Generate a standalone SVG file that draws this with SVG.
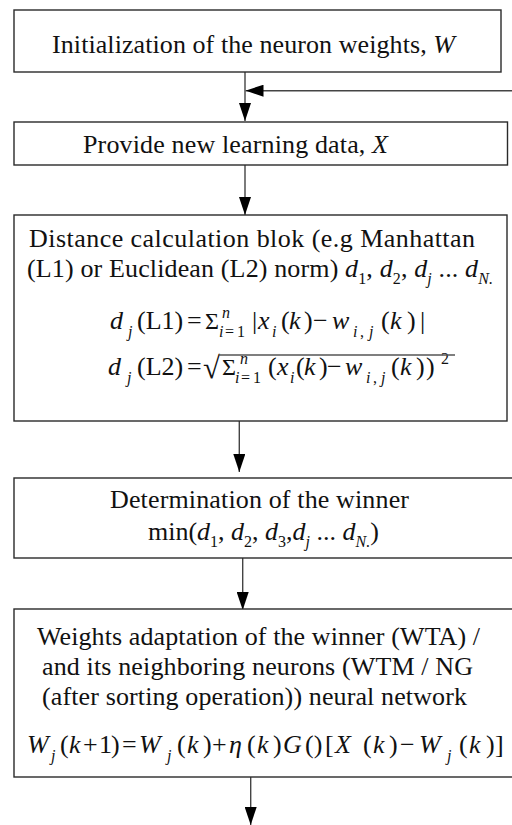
<svg xmlns="http://www.w3.org/2000/svg" width="512" height="825" viewBox="0 0 512 825">
<defs>
<style>
.box{fill:#fff;stroke:#2a2a2a;stroke-width:1.4}
.t{font-family:"Liberation Serif","Times New Roman",serif;font-size:26px;fill:#111}
.i{font-style:italic}
.s{font-size:16px}
.big{font-size:31px}
.sig{font-size:24px}
.con{stroke:#444;stroke-width:1.4;fill:none}
</style>
<marker id="ah" markerUnits="userSpaceOnUse" markerWidth="18" markerHeight="12" refX="18" refY="6" orient="auto" viewBox="0 0 18 12">
<path d="M0,0 L18,6 L0,12 Z" fill="#000"/>
</marker>
</defs>
<rect width="512" height="825" fill="#fff"/>

<g id="connectors">
<line class="con" x1="245" y1="72" x2="245" y2="121" marker-end="url(#ah)"/>
<line class="con" x1="513" y1="90.7" x2="245.5" y2="90.7" marker-end="url(#ah)"/>
<line class="con" x1="245" y1="165" x2="245" y2="215" marker-end="url(#ah)"/>
<line class="con" x1="239.3" y1="421" x2="239.3" y2="472" marker-end="url(#ah)"/>
<line class="con" x1="242.7" y1="558" x2="242.7" y2="610" marker-end="url(#ah)"/>
<line class="con" x1="250.7" y1="777" x2="250.7" y2="825" marker-end="url(#ah)"/>
</g>

<g id="init">
<rect class="box" x="14" y="10" width="487" height="62"/>
<text class="t" x="52" y="53" textLength="403">Initialization of the neuron weights, <tspan class="i">W</tspan></text>
</g>

<g id="provide">
<rect class="box" x="14" y="122" width="493.5" height="43"/>
<text class="t" x="83" y="153" textLength="305">Provide new learning data, <tspan class="i">X</tspan></text>
</g>

<g id="distance">
<rect class="box" x="14" y="215" width="493" height="206"/>
<text class="t" x="29" y="247" textLength="446">Distance calculation blok (e.g Manhattan</text>
<text class="t" x="27" y="277" textLength="466">(L1) or Euclidean (L2) norm) <tspan class="i">d</tspan><tspan class="s" dy="7">1</tspan><tspan dy="-7">, </tspan><tspan class="i">d</tspan><tspan class="s" dy="7">2</tspan><tspan dy="-7">, </tspan><tspan class="i">d</tspan><tspan class="s i" dy="7">j</tspan><tspan dy="-7"> ... </tspan><tspan class="i">d</tspan><tspan class="s i" dy="7">N.</tspan></text>
<text class="t">
<tspan class="i" x="110" y="329">d</tspan>
<tspan class="s i" x="128" y="337">j</tspan>
<tspan x="137" y="329">(L1)</tspan>
<tspan x="187" y="329">=</tspan>
<tspan class="sig" x="205" y="329">Σ</tspan>
<tspan class="s i" x="222" y="318">n</tspan>
<tspan class="s i" x="219" y="337">i</tspan><tspan class="s" x="225" y="337">=</tspan><tspan class="s" x="237" y="337">1</tspan>
<tspan x="252" y="329">|</tspan>
<tspan class="i" x="258" y="329">x</tspan>
<tspan class="s i" x="272" y="337">i</tspan>
<tspan x="281" y="329">(</tspan>
<tspan class="i" x="289" y="329">k</tspan>
<tspan x="304" y="329">)</tspan>
<tspan x="313" y="329">−</tspan>
<tspan class="i" x="332" y="329">w</tspan>
<tspan class="s i" x="353" y="337">i</tspan><tspan class="s" x="360" y="337">,</tspan><tspan class="s i" x="369" y="337">j</tspan>
<tspan x="381" y="329">(</tspan>
<tspan class="i" x="390" y="329">k</tspan>
<tspan x="407" y="329">)</tspan>
<tspan x="420" y="329">|</tspan>
</text>
<text class="t">
<tspan class="i" x="108" y="375">d</tspan>
<tspan class="s i" x="127" y="383">j</tspan>
<tspan x="137" y="375">(L2)</tspan>
<tspan x="187" y="375">=</tspan>
<tspan class="big" x="203" y="378">√</tspan>
<tspan class="sig" x="222" y="375">Σ</tspan>
<tspan class="s i" x="240" y="364">n</tspan>
<tspan class="s i" x="235" y="383">i</tspan><tspan class="s" x="241" y="383">=</tspan><tspan class="s" x="253" y="383">1</tspan>
<tspan x="268" y="375">(</tspan>
<tspan class="i" x="277" y="375">x</tspan>
<tspan class="s i" x="290" y="383">i</tspan>
<tspan x="296" y="375">(</tspan>
<tspan class="i" x="304" y="375">k</tspan>
<tspan x="319" y="375">)</tspan>
<tspan x="327" y="375">−</tspan>
<tspan class="i" x="345" y="375">w</tspan>
<tspan class="s i" x="366" y="383">i</tspan><tspan class="s" x="373" y="383">,</tspan><tspan class="s i" x="381" y="383">j</tspan>
<tspan x="391" y="375">(</tspan>
<tspan class="i" x="400" y="375">k</tspan>
<tspan x="416" y="375">)</tspan>
<tspan x="426" y="375">)</tspan>
<tspan class="s" x="441" y="364">2</tspan>
</text>
<line x1="219" y1="355" x2="455" y2="355" stroke="#555" stroke-width="1.4"/>
</g>

<g id="winner">
<rect class="box" x="14" y="478" width="501" height="80"/>
<text class="t" x="110" y="508" textLength="299">Determination of the winner</text>
<text class="t" x="148" y="540">min(<tspan class="i">d</tspan><tspan class="s" dy="7">1</tspan><tspan dy="-7">, </tspan><tspan class="i">d</tspan><tspan class="s" dy="7">2</tspan><tspan dy="-7">, </tspan><tspan class="i">d</tspan><tspan class="s" dy="7">3</tspan><tspan dy="-7">,</tspan><tspan class="i">d</tspan><tspan class="s i" dy="7">j</tspan><tspan dy="-7"> ... </tspan><tspan class="i">d</tspan><tspan class="s i" dy="7">N.</tspan><tspan dy="-7">)</tspan></text>
</g>

<g id="adapt">
<rect class="box" x="14" y="609" width="501" height="168"/>
<text class="t" x="37" y="645" textLength="443">Weights adaptation of the winner (WTA) /</text>
<text class="t" x="42" y="675" textLength="431">and its neighboring neurons (WTM / NG</text>
<text class="t" x="42" y="705" textLength="425">(after sorting operation)) neural network</text>
<text class="t">
<tspan class="i" x="27" y="753">W</tspan>
<tspan class="s i" x="51" y="761">j</tspan>
<tspan x="60" y="753">(</tspan>
<tspan class="i" x="69" y="753">k</tspan>
<tspan x="83" y="753">+</tspan>
<tspan x="99" y="753">1</tspan>
<tspan x="111" y="753">)</tspan>
<tspan x="122" y="753">=</tspan>
<tspan class="i" x="139" y="753">W</tspan>
<tspan class="s i" x="167" y="761">j</tspan>
<tspan x="177" y="753">(</tspan>
<tspan class="i" x="187" y="753">k</tspan>
<tspan x="203" y="753">)</tspan>
<tspan x="212" y="753">+</tspan>
<tspan class="i" x="229" y="753">η</tspan>
<tspan x="247" y="753">(</tspan>
<tspan class="i" x="257" y="753">k</tspan>
<tspan x="273" y="753">)</tspan>
<tspan class="i" x="283" y="753">G</tspan>
<tspan x="305" y="753">()</tspan>
<tspan x="325" y="753">[</tspan>
<tspan class="i" x="335" y="753">X</tspan>
<tspan x="363" y="753">(</tspan>
<tspan class="i" x="373" y="753">k</tspan>
<tspan x="389" y="753">)</tspan>
<tspan x="400" y="753">−</tspan>
<tspan class="i" x="419" y="753">W</tspan>
<tspan class="s i" x="447" y="761">j</tspan>
<tspan x="459" y="753">(</tspan>
<tspan class="i" x="469" y="753">k</tspan>
<tspan x="486" y="753">)</tspan>
<tspan x="495" y="753">]</tspan>
</text>
</g>
</svg>
